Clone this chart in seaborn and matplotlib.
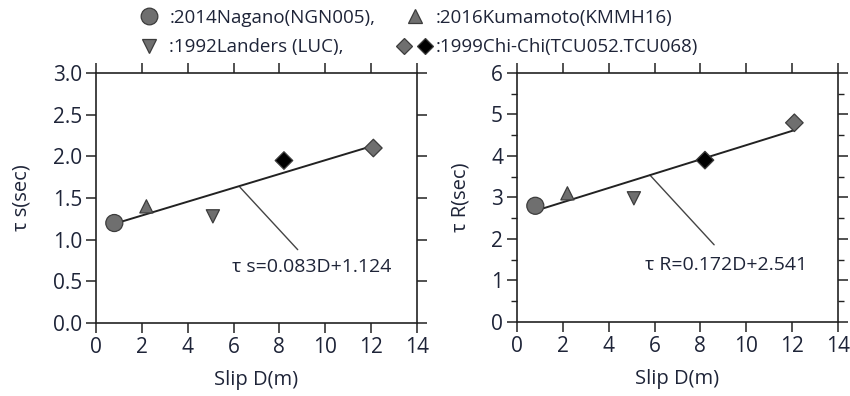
import numpy as np
import pandas as pd
import matplotlib
matplotlib.use('Agg')
import matplotlib.pyplot as plt
from matplotlib.lines import Line2D
from matplotlib.legend_handler import HandlerTuple
from matplotlib.ticker import MultipleLocator
import seaborn as sns

# ============================================================
# DATA
# ============================================================
events = ['Nagano', 'Kumamoto', 'Landers', 'ChiChi_a', 'ChiChi_b']
slip_d = [0.8, 2.2, 5.1, 8.2, 12.1]
tau_s = [1.20, 1.40, 1.28, 1.95, 2.10]
tau_r = [2.80, 3.10, 2.98, 3.90, 4.80]

fit_s = (0.083, 1.124)
fit_r = (0.172, 2.541)

legend_labels = [':2014Nagano(NGN005),', ':1992Landers (LUC),',
                 ':2016Kumamoto(KMMH16)', ':1999Chi-Chi(TCU052.TCU068)']

df = pd.DataFrame({'event': events, 'D': slip_d, 'tau_s': tau_s, 'tau_r': tau_r})

# ============================================================
# STYLE
# ============================================================
sns.set_style('ticks')
plt.rcParams['font.family'] = ['Open Sans', 'DejaVu Sans']
TXT = '#1e2438'
GRAY = '#6f6f6f'
EDGE = '#3c3c3c'
palette = {'Nagano': GRAY, 'Kumamoto': GRAY, 'Landers': GRAY,
           'ChiChi_a': 'black', 'ChiChi_b': GRAY}
markers = {'Nagano': 'o', 'Kumamoto': '^', 'Landers': 'v',
           'ChiChi_a': 'D', 'ChiChi_b': 'D'}
sizes = {'Nagano': 150, 'Kumamoto': 90, 'Landers': 90,
         'ChiChi_a': 80, 'ChiChi_b': 80}

fig = plt.figure(figsize=(8.5, 3.96), dpi=100)
ax1 = fig.add_axes([0.1129, 0.1843, 0.3776, 0.6313])
ax2 = fig.add_axes([0.6082, 0.1869, 0.3776, 0.6288])


def draw(ax, ycol, fit, ylim, ystep, yminor, ylabel, eq, leader, eq_xy, fmt):
    d = np.array([min(slip_d), max(slip_d)])
    line_df = pd.DataFrame({'D': d, 'y': fit[0] * d + fit[1]})
    sns.lineplot(data=line_df, x='D', y='y', ax=ax, color='#222222', lw=1.4, zorder=2)
    sns.scatterplot(data=df, x='D', y=ycol, hue='event', style='event', size='event',
                    palette=palette, markers=markers, sizes=sizes,
                    edgecolor=EDGE, linewidth=0.9, ax=ax, legend=False, zorder=3)
    # leader line to the equation
    ax.plot(leader[0], leader[1], color='#444444', lw=1.0, zorder=1)
    ax.text(eq_xy[0], eq_xy[1], eq, fontsize=14, color=TXT, va='center', ha='left')

    ax.set_xlim(0, 14)
    ax.set_ylim(*ylim)
    ax.xaxis.set_major_locator(MultipleLocator(2))
    ax.yaxis.set_major_locator(MultipleLocator(ystep))
    if yminor:
        ax.yaxis.set_minor_locator(MultipleLocator(yminor))
    ax.yaxis.set_major_formatter(fmt)
    ax.tick_params(which='major', direction='out', length=7, width=1.1, pad=3,
                   top=True, right=True, labelsize=15, labelcolor=TXT, color='#222222')
    ax.tick_params(which='minor', direction='out', length=4.5, width=1.0,
                   left=True, right=True, color='#222222')
    for s in ax.spines.values():
        s.set_visible(True)
        s.set_linewidth(1.2)
        s.set_color('#222222')
    ax.set_xlabel('Slip D(m)', fontsize=14.5, color=TXT, labelpad=9)
    ax.set_ylabel(ylabel, fontsize=14.5, color=TXT, labelpad=15)


draw(ax1, 'tau_s', fit_s, (0, 3.0), 0.5, None, 'τ s(sec)', 'τ s=0.083D+1.124',
     ([6.28, 8.8], [1.63, 0.88]), (5.95, 0.67), '{x:.1f}')
draw(ax2, 'tau_r', fit_r, (0, 6), 1, 0.5, 'τ R(sec)', 'τ R=0.172D+2.541',
     ([5.8, 8.6], [3.54, 1.86]), (5.6, 1.37), '{x:.0f}')

# ============================================================
# LEGEND
# ============================================================
mk = dict(linestyle='none', markeredgecolor=EDGE, markeredgewidth=0.9)
h_circle = Line2D([], [], marker='o', markersize=12, markerfacecolor=GRAY, **mk)
h_down = Line2D([], [], marker='v', markersize=10, markerfacecolor=GRAY, **mk)
h_up = Line2D([], [], marker='^', markersize=10, markerfacecolor=GRAY, **mk)
h_dg = Line2D([], [], marker='D', markersize=8.5, markerfacecolor=GRAY, **mk)
h_db = Line2D([], [], marker='D', markersize=8.5, markerfacecolor='black', **mk)

leg = fig.legend([h_circle, h_down, h_up, (h_dg, h_db)], legend_labels,
                 ncol=2, loc='upper left', bbox_to_anchor=(0.133, 1.02),
                 frameon=False, fontsize=13.5, handlelength=2.0, handletextpad=0.1,
                 columnspacing=1.1, labelspacing=0.6,
                 handler_map={tuple: HandlerTuple(ndivide=None, pad=0.25)})
for t in leg.get_texts():
    t.set_color(TXT)

fig.savefig('out.png', dpi=100)
